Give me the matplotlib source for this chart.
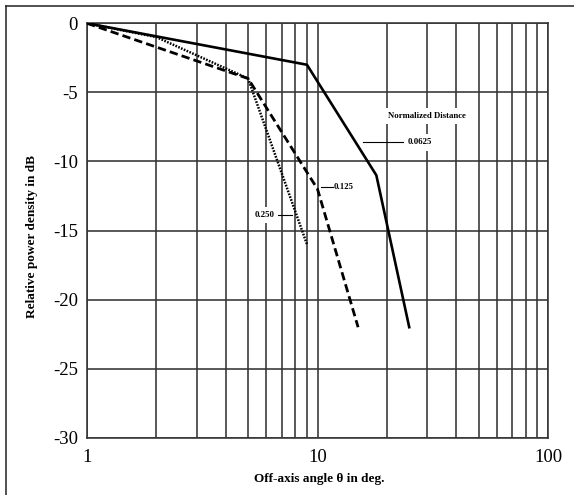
import matplotlib
matplotlib.use("Agg")
import matplotlib.pyplot as plt
from matplotlib.lines import Line2D
import numpy as np

plt.rcParams['font.family'] = ['Liberation Serif', 'DejaVu Serif']
plt.rcParams['lines.scale_dashes'] = False

# Data
x_0625 = [1, 9, 18, 25]
y_0625 = [0, -3, -11, -22]
x_125 = [1, 5, 10, 15]
y_125 = [0, -4, -12, -22]
x_250 = [1, 2, 5, 9]
y_250 = [0, -1, -4, -16]

y_ticks = [0, -5, -10, -15, -20, -25, -30]
x_ticks = [1, 10, 100]
x_ticklabels = ['1', '10', '100']

W, H = 574, 495
fig = plt.figure(figsize=(W / 100, H / 100), dpi=100)
L, R, T, B = 87, 548, 23.3, 437.7
ax = fig.add_axes([L / W, 1 - B / H, (R - L) / W, (B - T) / H])

ax.set_xscale('log')
ax.set_xlim(1, 100)
ax.set_ylim(-30, 0)

gcol = '#333333'
ax.set_xticks(x_ticks)
ax.set_xticklabels(x_ticklabels)
ax.set_xticks([v * d for d in (1, 10) for v in range(2, 10)], minor=True)
ax.xaxis.set_minor_formatter(matplotlib.ticker.NullFormatter())
ax.set_yticks(y_ticks)
ax.set_yticklabels([str(v) for v in y_ticks])
ax.grid(True, which='both', axis='x', color=gcol, lw=1.15)
ax.grid(True, which='major', axis='y', color=gcol, lw=1.15)
ax.tick_params(which='both', length=0)
ax.tick_params(axis='x', pad=8, labelsize=13.5)
ax.tick_params(axis='y', pad=6.5, labelsize=13.5)
for s in ax.spines.values():
    s.set_color(gcol)
    s.set_linewidth(1.15)
ax.set_axisbelow(True)

ax.plot(x_0625, y_0625, color='black', lw=1.9, zorder=3)
ax.plot(x_125, y_125, color='black', lw=2.0, dashes=(6, 3), zorder=3)
ax.plot(x_250, y_250, color='black', lw=1.8, dashes=(1.2, 1.0), zorder=3)

bbox = dict(facecolor='white', edgecolor='none', pad=3)
tkw = dict(fontsize=6.3, fontweight='bold', ha='center', va='center', bbox=bbox, zorder=2)
ax.text(29.7, -6.7, 'Normalized Distance', **tkw)
ax.text(27.8, -8.62, '0.0625', **tkw)
ax.text(13.0, -11.83, '0.125', **tkw)
ax.text(5.87, -13.88, '0.250', **tkw)
ax.plot([15.8, 23.4], [-8.62, -8.62], color='black', lw=0.8, zorder=3)
ax.plot([10.4, 11.7], [-11.83, -11.83], color='black', lw=0.8, zorder=3)
ax.plot([6.73, 7.74], [-13.88, -13.88], color='black', lw=0.8, zorder=3)

fig.text(32 / W, 1 - 237 / H, 'Relative power density in dB', rotation=90,
         ha='center', va='center', fontsize=9.5, fontweight='bold')
fig.text(319 / W, 1 - 479 / H, 'Off-axis angle \u03b8 in deg.',
         ha='center', va='center', fontsize=9.5, fontweight='bold')

# outer frame (left and top edges)
fig.add_artist(Line2D([6 / W, 6 / W], [0, 1 - 6 / H], transform=fig.transFigure,
                      color='#222222', lw=1.1))
fig.add_artist(Line2D([6 / W, 1], [1 - 6 / H, 1 - 6 / H], transform=fig.transFigure,
                      color='#222222', lw=1.1))

fig.savefig('out.png', dpi=100)
